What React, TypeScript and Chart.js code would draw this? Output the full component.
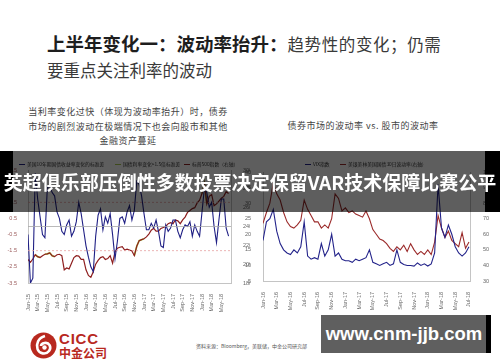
import React, { useEffect, useRef } from "react";
import { Chart, registerables } from "chart.js";
Chart.register(...registerables);

// ---------- DATA ----------
const leftXLabels = ["Jan-15","Mar-15","May-15","Jul-15","Sep-15","Nov-15","Jan-16","Mar-16","May-16","Jul-16","Sep-16","Nov-16","Jan-17","Mar-17","May-17","Jul-17","Sep-17","Nov-17","Jan-18","Mar-18","May-18"];
const rightXLabels = ["Jan-16","Mar-16","May-16","Jul-16","Sep-16","Nov-16","Jan-17","Mar-17","May-17","Jul-17","Sep-17","Nov-17","Jan-18","Mar-18","May-18","Jul-18"];
const leftYTicks = [-3.5, -2.5, -1.5, -0.5, 0.5, 1.5, 2.5, 3.5];
const zeroLevel = [0];
const bandLevels = [1.5, -1.5];

// half-monthly, Jan-15 .. Jun-18
const ustStd = [-0.5,-3.5,-3.2,3.3,1.7,0.6,-0.5,-0.7,2.4,2.5,
  2.1,1.9,0.9,0.5,-0.3,-0.5,0.1,0.4,-0.6,-0.3,
  0.3,1.5,0.8,-0.2,-1.2,-1.9,-2.5,-2.8,-0.6,0.7,
  1.1,-0.2,0.6,0.2,0.8,-0.5,-2.0,-0.9,0.5,0.6,
  0.2,0.9,1.3,0.4,1.0,2.8,2.6,1.9,0.8,-0.2,
  -0.2,0.2,-0.1,0.4,-0.3,-1.2,-1.3,0.1,-0.3,-0.1,
  0.4,0.4,-0.3,-0.7,-0.2,0.1,0.0,0.3,-0.6,0.1,
  -0.3,-0.6,0.9,2.4,2.1,1.2,1.5,0.0,-1.0,0.4,
  1.7,1.7,-0.1,-0.6];
const spx = [2050,2020,2055,2100,2080,2070,2090,2105,2110,2120,2090,2080,2100,2105,2090,1940,1960,1950,2010,2070,2090,2085,2050,2050,
  1940,1880,1860,1920,2000,2040,2070,2080,2050,2060,2090,2010,2130,2170,2180,2185,2150,2160,2150,2140,2090,2190,2250,2260,
  2270,2290,2320,2360,2380,2350,2350,2380,2390,2400,2430,2440,2430,2470,2460,2430,2470,2500,2550,2570,2590,2600,2650,2680,
  2750,2860,2640,2720,2740,2620,2640,2670,2700,2720,2770,2750];
const stressRanges = [[3,5],[7,11],[44,48],[72,74]];

// half-monthly, Jan-16 .. Jul-18
const vix = [18,24,25,28,21,17,15,14,13.5,15,
  14,16,24,13,12,12.5,12,17,13,15,
  20,13,14,12,11.5,11.5,11,12,11.5,12,
  12.5,15,11,10.5,10,10.5,11,10,10.5,15,
  11,10.3,10,10,9.8,10.8,10,10.5,9.8,10.5,
  14,36,22,19,23,20,16,14,13,14,16];
const move = [67,74,80,93,86,82,74,68,65,64,
  66,69,82,76,72,68,68,64,66,64,
  70,86,83,75,77,74,75,73,72,71,
  75,70,63,60,57,56,54,51,49,52,
  50,53,49,54,50,47,49,47,50,47,
  55,72,64,58,62,56,54,52,61,51,55];

// ---------- helpers ----------
const pts = (arr: number[]) => arr.map((y, x) => ({ x, y }));
const flat = (v: number, n: number) => [{ x: 0, y: v }, { x: n, y: v }];
const inStress = (i: number) => stressRanges.some(([a, b]) => i >= a && i <= b);

const FONT = "'Liberation Sans', Arial, sans-serif";
const CJK = "'Noto Sans CJK SC', 'Noto Sans', sans-serif";

function leftConfig(): any {
  const n = 84;
  return {
    type: "line",
    data: {
      datasets: [
        { data: flat(zeroLevel[0], n), borderColor: "#a8a8a8", borderWidth: 0.8, yAxisID: "y" },
        ...bandLevels.map((v) => ({ data: flat(v, n), borderColor: "#e6a2a2", borderWidth: 0.8, borderDash: [2, 2], yAxisID: "y" })),
        { data: pts(ustStd), borderColor: "#1f1f84", borderWidth: 1.1, yAxisID: "y" },
        { data: pts(spx), borderColor: "#8e1f1f", borderWidth: 1.2, yAxisID: "y1" },
        { data: spx.map((y, x) => ({ x, y: inStress(x) ? y : null })), borderColor: "#a9c84c", borderWidth: 1.7, yAxisID: "y1", spanGaps: false },
      ],
    },
    options: {
      responsive: false,
      animation: false,
      layout: { padding: { top: 20, left: 0, right: 0, bottom: 0 } },
      plugins: { legend: { display: false }, tooltip: { enabled: false } },
      elements: { point: { radius: 0 }, line: { tension: 0 } },
      scales: {
        x: {
          type: "linear", min: 0, max: n,
          afterBuildTicks: (s: any) => { s.ticks = leftXLabels.map((_, i) => ({ value: i * 4 })); },
          ticks: { callback: (_v: any, i: number) => leftXLabels[i], minRotation: 90, maxRotation: 90, autoSkip: false, font: { size: 5.5, family: FONT }, color: "#666", padding: 3 },
          grid: { display: false },
          border: { display: true, color: "#c4c4c4" },
          afterFit: (s: any) => { s.height = 29; },
        },
        y: {
          position: "left", min: -3.5, max: 3.5,
          afterBuildTicks: (s: any) => { s.ticks = leftYTicks.map((v) => ({ value: v })); },
          ticks: { callback: (v: any) => String(v), font: { size: 5.5, family: FONT }, color: "#9b5b5b", padding: 3 },
          grid: { display: false },
          border: { display: true, color: "#c4c4c4" },
          afterFit: (s: any) => { s.width = 28; },
        },
        y1: {
          position: "right", min: 1800, max: 3000,
          ticks: { stepSize: 200, callback: (v: any) => String(v), font: { size: 5.5, family: FONT }, color: "#666", padding: 4 },
          grid: { display: false },
          border: { display: true, color: "#c4c4c4" },
          afterFit: (s: any) => { s.width = 19; },
        },
      },
    },
  };
}

function rightConfig(): any {
  const n = 60.3;
  return {
    type: "line",
    data: {
      datasets: [
        { data: pts(vix), borderColor: "#23238a", borderWidth: 1.1, yAxisID: "y" },
        { data: pts(move), borderColor: "#9b2a2a", borderWidth: 1.1, yAxisID: "y1" },
      ],
    },
    options: {
      responsive: false,
      animation: false,
      layout: { padding: { top: 22, left: 0, right: 0, bottom: 0 } },
      plugins: { legend: { display: false }, tooltip: { enabled: false } },
      elements: { point: { radius: 0 }, line: { tension: 0 } },
      scales: {
        x: {
          type: "linear", min: 0, max: n,
          afterBuildTicks: (s: any) => { s.ticks = rightXLabels.map((_, i) => ({ value: i * 4 })); },
          ticks: { callback: (_v: any, i: number) => rightXLabels[i], minRotation: 90, maxRotation: 90, autoSkip: false, font: { size: 5.5, family: FONT }, color: "#666", padding: 3 },
          grid: { display: false },
          border: { display: true, color: "#c4c4c4" },
          afterFit: (s: any) => { s.height = 31; },
        },
        y: {
          position: "left", min: 5, max: 40,
          ticks: { stepSize: 5, callback: (v: any) => String(v), font: { size: 5.5, family: FONT }, color: "#666", padding: 4 },
          grid: { display: false },
          border: { display: true, color: "#c4c4c4" },
          afterFit: (s: any) => { s.width = 18; },
        },
        y1: {
          position: "right", min: 30, max: 100,
          ticks: { stepSize: 10, callback: (v: any) => String(v), font: { size: 5.5, family: FONT }, color: "#666", padding: 5 },
          grid: { display: false },
          border: { display: true, color: "#c4c4c4" },
          afterFit: (s: any) => { s.width = 30; },
        },
      },
    },
  };
}

const abs = (l: number, t: number, extra: any = {}) => ({ position: "absolute" as const, left: l, top: t, ...extra });

function LegendLine({ color, dashed }: { color: string; dashed?: boolean }) {
  return <span style={{ display: "inline-block", width: 6, height: 0, borderTop: `1.5px ${dashed ? "dashed" : "solid"} ${color}`, verticalAlign: "middle", marginRight: 2 }} />;
}

export default function App() {
  const leftRef = useRef<HTMLCanvasElement>(null);
  const rightRef = useRef<HTMLCanvasElement>(null);

  useEffect(() => {
    const a = new Chart(leftRef.current as HTMLCanvasElement, leftConfig());
    const b = new Chart(rightRef.current as HTMLCanvasElement, rightConfig());
    return () => { a.destroy(); b.destroy(); };
  }, []);

  const smallLegend = { fontFamily: CJK, fontSize: 4.8, color: "#333", whiteSpace: "nowrap" as const, lineHeight: "6px" };

  return (
    <div style={{ position: "fixed", left: 0, top: 0, width: 500, height: 362, background: "#fff", overflow: "hidden", fontFamily: CJK }}>
      {/* title */}
      <div style={abs(47, 33, { whiteSpace: "nowrap", lineHeight: "20px" })}>
        <span style={{ fontSize: 18.5, fontWeight: 700, color: "#1e1e1e" }}>上半年变化一：波动率抬升：</span>
        <span style={{ fontSize: 16.5, fontWeight: 400, color: "#3a3a3a", letterSpacing: 0.6 }}>趋势性的变化；仍需</span>
      </div>
      <div style={abs(47, 60, { whiteSpace: "nowrap", lineHeight: "20px", fontSize: 16.5, color: "#3a3a3a" })}>要重点关注利率的波动</div>

      {/* subtitles */}
      <div style={abs(14, 105, { width: 228, textAlign: "center", fontSize: 9, lineHeight: "14.5px", color: "#444", letterSpacing: 0.5 })}>
        当利率变化过快（体现为波动率抬升）时，债券<br />市场的剧烈波动在极端情况下也会向股市和其他<br />金融资产蔓延
      </div>
      <div style={abs(263, 119, { width: 200, textAlign: "center", fontSize: 9, lineHeight: "14px", color: "#444", letterSpacing: 0.5, whiteSpace: "nowrap" })}>
        债券市场的波动率 vs. 股市的波动率
      </div>

      {/* charts */}
      <canvas ref={leftRef} width={250} height={162} style={abs(0, 150, { width: 250, height: 162 })} />
      <canvas ref={rightRef} width={255} height={162} style={abs(245, 150, { width: 255, height: 162 })} />

      {/* legends */}
      <div style={abs(19, 161, smallLegend)}><LegendLine color="#1f1f84" />美国10年期国债收益率变化的标准差</div>
      <div style={abs(115, 161, smallLegend)}><LegendLine color="#a9c84c" dashed />国债利率变化&gt;1.5倍标准差</div>
      <div style={abs(184, 161, smallLegend)}><LegendLine color="#8e1f1f" />标普500指数（右轴）</div>
      <div style={abs(305, 161, smallLegend)}><LegendLine color="#23238a" />VIX指数</div>
      <div style={abs(340, 161, smallLegend)}><LegendLine color="#9b2a2a" />美银美林美国国债30日波动率(右轴)</div>

      {/* banner overlay */}
      <div style={abs(0, 151, { width: 500, height: 61, background: "rgba(0,0,0,0.63)" })} />
      <div style={abs(0, 151, { width: 13, height: 61, background: "#000" })} />
      <div style={abs(485, 151, { width: 15, height: 61, background: "#000" })} />
      <div style={abs(0, 171, { width: 500, textAlign: "center", color: "#fff", fontWeight: 700, fontSize: 19, lineHeight: "22px", whiteSpace: "nowrap" })}>
        英超俱乐部压倒性多数投票决定保留VAR技术保障比赛公平
      </div>

      {/* footer: logo */}
      <svg style={abs(30, 332)} width={27} height={27} viewBox="0 0 27 27">
        <circle cx={13.5} cy={13.5} r={13} fill="#b8291f" />
        <path d="M15 4 C8 6 6 12 7.5 17 C9 22 16 23 19 19 C22 15 19 10 14.5 11 C12 11.5 11 13 11 14" fill="none" stroke="#fff" strokeWidth={2.6} />
        <circle cx={14.5} cy={15.5} r={2.2} fill="#fff" />
      </svg>
      <div style={abs(59, 332, { fontFamily: FONT, fontWeight: 700, fontSize: 15, lineHeight: "14px", color: "#b8291f", letterSpacing: 0.8 })}>CICC</div>
      <div style={abs(59, 346, { fontWeight: 700, fontSize: 12, lineHeight: "13px", color: "#b8291f", whiteSpace: "nowrap" })}>中金公司</div>

      {/* source */}
      <div style={abs(196, 343, { fontSize: 5, lineHeight: "6px", color: "#555", whiteSpace: "nowrap" })}>资料来源：Bloomberg，美联储，中金公司研究部</div>

      {/* watermark */}
      <div style={abs(321, 315, { width: 166, height: 38, background: "#5f5f5f" })} />
      <div style={abs(486, 315, { width: 5, height: 38, background: "#000" })} />
      <div style={abs(321, 315, { width: 166, height: 38, lineHeight: "38px", textAlign: "center", color: "#fff", fontFamily: FONT, fontWeight: 700, fontSize: 18.5 })}>www.cnm-jjb.com</div>
    </div>
  );
}
